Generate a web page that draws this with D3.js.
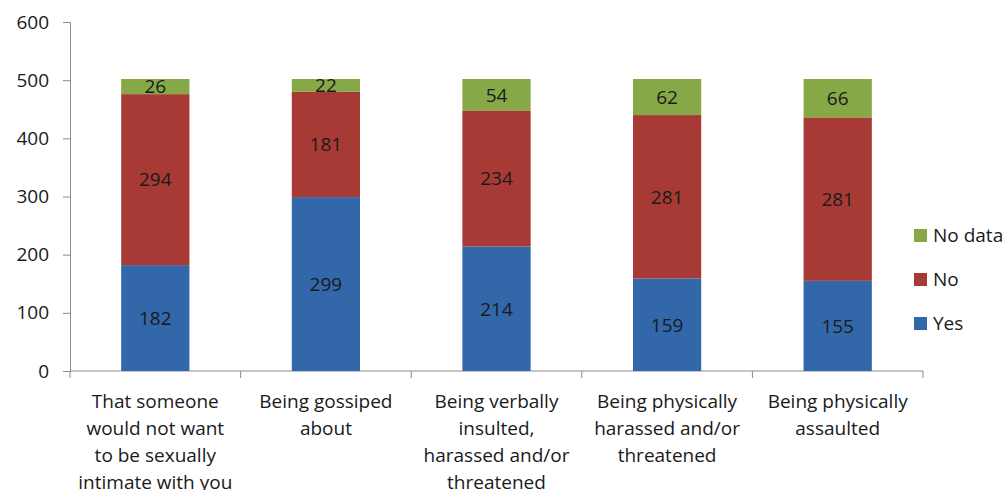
<!DOCTYPE html>
<html>
<head>
<meta charset="utf-8">
<script src="https://cdn.jsdelivr.net/npm/d3@7"></script>
<style>
  html, body { margin: 0; padding: 0; background: #fff; }
  svg { display: block; }
  text { font-family: "Open Sans", "Liberation Sans", sans-serif; fill: #1a1a1a; }
</style>
</head>
<body>
<svg id="chart" width="1007" height="490"></svg>
<script>
// Survey responses per concern
const categories = [
  ["That someone", "would not want", "to be sexually", "intimate with you"],
  ["Being gossiped", "about"],
  ["Being verbally", "insulted,", "harassed and/or", "threatened"],
  ["Being physically", "harassed and/or", "threatened"],
  ["Being physically", "assaulted"]
];
const yesValues = [182, 299, 214, 159, 155];
const noValues = [294, 181, 234, 281, 281];
const noDataValues = [26, 22, 54, 62, 66];
const seriesNames = ["Yes", "No", "No data"];
const seriesColors = ["#3267aa", "#a83a36", "#87a847"];
const yTicks = [0, 100, 200, 300, 400, 500, 600];

const svg = d3.select("#chart");
const plotLeft = 70, plotRight = 923, plotTop = 22, plotBottom = 371;

const x = d3.scaleBand().domain(d3.range(categories.length)).range([plotLeft, plotRight]).paddingInner(0.6).paddingOuter(0.3);
const xOuter = d3.scaleBand().domain(d3.range(categories.length)).range([plotLeft, plotRight]);
const y = d3.scaleLinear().domain([0, 600]).range([plotBottom, plotTop]);

const rows = categories.map((c, i) => ({ i, Yes: yesValues[i], No: noValues[i], "No data": noDataValues[i] }));
const stacked = d3.stack().keys(seriesNames)(rows);

// Y axis
const yAxis = svg.append("g").attr("transform", `translate(${plotLeft},0)`)
  .call(d3.axisLeft(y).tickValues(yTicks).tickSize(7).tickPadding(14));
yAxis.select(".domain").attr("stroke", "#8c8c8c");
yAxis.selectAll(".tick line").attr("stroke", "#8c8c8c");
yAxis.selectAll(".tick text").attr("font-size", 19).style("font-family", "'Open Sans', sans-serif").attr("fill", "#1a1a1a");

// X axis baseline with category boundary ticks
const xg = svg.append("g");
xg.append("line").attr("x1", plotLeft).attr("x2", plotRight).attr("y1", plotBottom).attr("y2", plotBottom).attr("stroke", "#8c8c8c");
const bounds = d3.range(categories.length + 1).map(k => k < categories.length ? xOuter(k) : plotRight);
xg.selectAll("line.bt").data(bounds).join("line")
  .attr("class", "bt")
  .attr("x1", d => d).attr("x2", d => d)
  .attr("y1", plotBottom).attr("y2", plotBottom + 7)
  .attr("stroke", "#8c8c8c");

// Stacked bars
const layers = svg.append("g").selectAll("g").data(stacked).join("g")
  .attr("fill", (d, k) => seriesColors[k]);
layers.selectAll("rect").data(d => d).join("rect")
  .attr("x", (d, i) => x(i))
  .attr("width", x.bandwidth())
  .attr("y", d => y(d[1]))
  .attr("height", d => y(d[0]) - y(d[1]));

// Value labels centred in each segment
layers.selectAll("text").data(d => d.map(v => ({ v, key: d.key }))).join("text")
  .attr("x", (d, i) => x(i) + x.bandwidth() / 2)
  .attr("y", d => (y(d.v[0]) + y(d.v[1])) / 2)
  .attr("dy", "0.36em")
  .attr("text-anchor", "middle")
  .attr("font-size", 19)
  .style("fill", "#1a1a1a")
  .text(d => d.v.data[d.key]);

// Category labels
const cl = svg.append("g").selectAll("text").data(categories).join("text")
  .attr("x", (d, i) => xOuter(i) + xOuter.bandwidth() / 2)
  .attr("y", 408)
  .attr("text-anchor", "middle")
  .attr("font-size", 19);
cl.selectAll("tspan").data(d => d).join("tspan")
  .attr("x", function () { return this.parentNode.getAttribute("x"); })
  .attr("dy", (d, j) => j === 0 ? 0 : 27)
  .text(d => d);

// Legend (top to bottom: No data, No, Yes)
const legendOrder = [2, 1, 0];
const lg = svg.append("g").selectAll("g").data(legendOrder).join("g")
  .attr("transform", (k, j) => `translate(914, ${235 + j * 44})`);
lg.append("rect").attr("x", 0).attr("y", -6).attr("width", 13).attr("height", 13)
  .attr("fill", k => seriesColors[k]);
lg.append("text").attr("x", 19).attr("dy", "0.36em").attr("font-size", 19)
  .text(k => seriesNames[k]);
</script>
</body>
</html>
